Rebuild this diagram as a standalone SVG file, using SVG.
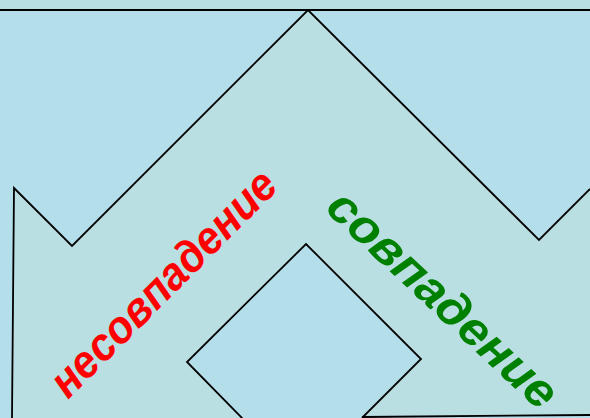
<svg xmlns="http://www.w3.org/2000/svg" width="590" height="418" viewBox="0 0 590 418">
<style>
.bg{fill:#badfe2}
.hole{fill:#b4deea;stroke:none}
.ln{fill:none;stroke:#000;stroke-width:1.8;stroke-linejoin:miter}
.lbl{font-family:"Liberation Sans",Arial,sans-serif;font-weight:bold;font-style:italic}
</style>
<rect class="bg" x="0" y="0" width="590" height="418"/>
<g id="regions">
<polygon id="left-region" class="hole" points="0,10 308,10 72,246 14,188 12,418 0,418"/>
<polygon id="right-region" class="hole" points="308,10 590,10 590,190 539,240"/>
<polygon id="inner-diamond" class="hole" points="306,244 421,359 362,418 243,418 187,362"/>
<rect class="hole" x="362" y="416" width="228" height="2"/>
</g>
<g id="connectors">
<line class="ln" x1="0" y1="10" x2="590" y2="10"/>
<polyline class="ln" points="12,418 14,188 72,246 308,10 539,240 590,189"/>
<polyline class="ln" points="243,419 187,362 306,244 421,359 362,418"/>
<line class="ln" x1="362" y1="417" x2="590" y2="415"/>
</g>
<g id="label-mismatch">
<text class="lbl" fill="#ff0000" font-size="46" text-anchor="middle" textLength="300" lengthAdjust="spacingAndGlyphs" transform="translate(174,294) rotate(-45)">несовпадение</text>
</g>
<g id="label-match">
<text class="lbl" fill="#008000" font-size="48" text-anchor="middle" textLength="296" lengthAdjust="spacingAndGlyphs" transform="translate(432,311) rotate(43)">совпадение</text>
</g>
</svg>
